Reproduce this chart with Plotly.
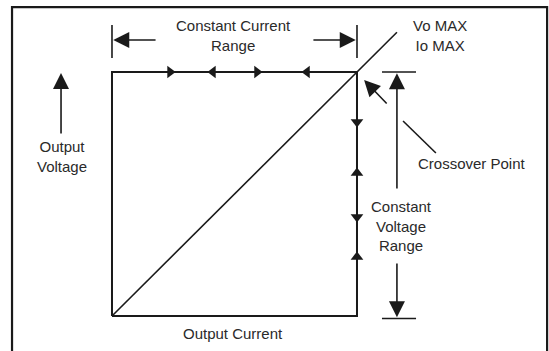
import plotly.graph_objects as go

# normalised units: current I and voltage V, 1.0 = Io MAX / Vo MAX
square_i = [0, 0, 1, 1, 0]
square_v = [0, 1, 1, 0, 0]
load_i = [0, 1.163]
load_v = [0, 1.163]

# direction arrows along the operating boundary
cc_arrow_i = [0.237, 0.412, 0.592, 0.796]
cc_arrow_sym = ["triangle-right", "triangle-left", "triangle-right", "triangle-left"]
cv_arrow_v = [0.795, 0.586, 0.406, 0.242]
cv_arrow_sym = ["triangle-down", "triangle-up", "triangle-down", "triangle-up"]

frame_i = [-0.408, -0.408, 1.776, 1.776]
frame_v = [-0.3, 1.266, 1.266, -0.3]

LINE = "#1a1a1a"
TEXT = "#2a2a2a"
FONT = dict(family="Liberation Sans, Arial, sans-serif", size=15, color=TEXT)

fig = go.Figure()
fig.add_trace(go.Scatter(x=frame_i, y=frame_v, mode="lines", line=dict(color=LINE, width=2.2)))
fig.add_trace(go.Scatter(x=square_i, y=square_v, mode="lines", line=dict(color=LINE, width=2)))
fig.add_trace(go.Scatter(x=load_i, y=load_v, mode="lines", line=dict(color=LINE, width=1.6)))
fig.add_trace(go.Scatter(x=cc_arrow_i, y=[1] * 4, mode="markers",
                         marker=dict(symbol=cc_arrow_sym, size=11, color=LINE)))
fig.add_trace(go.Scatter(x=[1] * 4, y=cv_arrow_v, mode="markers",
                         marker=dict(symbol=cv_arrow_sym, size=11, color=LINE)))

# dimension ticks
tick_cc_v = [1.057, 1.193]
tick_cv_i = [1.102, 1.241]
for i in [0, 1]:
    fig.add_trace(go.Scatter(x=[i, i], y=tick_cc_v, mode="lines", line=dict(color=LINE, width=1.6)))
for v in [1, -0.01]:
    fig.add_trace(go.Scatter(x=tick_cv_i, y=[v, v], mode="lines", line=dict(color=LINE, width=1.6)))

# leader line to crossover label
fig.add_trace(go.Scatter(x=[1.188, 1.322], y=[0.799, 0.668], mode="lines", line=dict(color=LINE, width=1.6)))


def arrow(x0, y0, x1, y1):
    fig.add_annotation(x=x1, y=y1, ax=x0, ay=y0, xref="x", yref="y", axref="x", ayref="y",
                       text="", showarrow=True, arrowhead=2, arrowsize=2, arrowwidth=1.6,
                       arrowcolor=LINE, standoff=0)


arrow(0.184, 1.131, 0.005, 1.131)
arrow(0.816, 1.131, 0.995, 1.131)
arrow(1.163, 0.516, 1.163, 0.995)
arrow(1.163, 0.221, 1.163, -0.005)
arrow(1.127, 0.865, 1.029, 0.967)
arrow(-0.208, 0.742, -0.208, 0.996)

labels = [
    (0.494, 1.148, "Constant Current<br>Range"),
    (1.339, 1.148, "Vo MAX<br>Io MAX"),
    (-0.205, 0.652, "Output<br>Voltage"),
    (1.469, 0.627, "Crossover Point"),
    (1.18, 0.369, "Constant<br>Voltage<br>Range"),
    (0.494, -0.07, "Output Current"),
]
for x, y, t in labels:
    fig.add_annotation(x=x, y=y, text=t, showarrow=False, font=FONT, align="center")

fig.update_layout(
    width=549, height=351, margin=dict(l=0, r=0, t=0, b=0),
    paper_bgcolor="white", plot_bgcolor="white", showlegend=False,
    xaxis=dict(range=[-0.4571, 1.7837], visible=False, fixedrange=True),
    yaxis=dict(range=[-0.1434, 1.2951], visible=False, fixedrange=True),
)
fig.write_html("out.html", config={"displayModeBar": False},
               post_script="document.body.style.margin='0';")
